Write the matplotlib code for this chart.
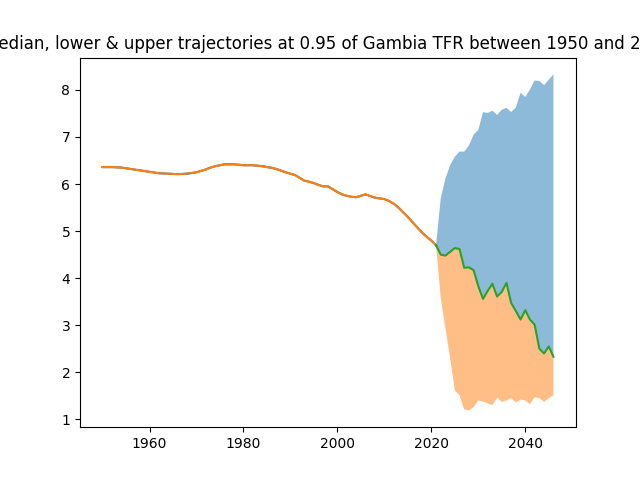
import numpy as np
import matplotlib
matplotlib.use("Agg")
import matplotlib.pyplot as plt

COUNTRY = "Gambia"
LEVEL = 0.95

# Observed TFR, one value per year 1950..2021
past_years = list(range(1950, 2022))
past_tfr = [
    6.36, 6.36, 6.36, 6.355, 6.35, 6.335, 6.32, 6.305, 6.29, 6.275,
    6.26, 6.245, 6.23, 6.225, 6.22, 6.215, 6.21, 6.215, 6.22, 6.235,
    6.25, 6.28, 6.31, 6.35, 6.38, 6.40, 6.42, 6.42, 6.42, 6.41,
    6.40, 6.40, 6.40, 6.39, 6.38, 6.36, 6.345, 6.32, 6.285, 6.25,
    6.22, 6.19, 6.13, 6.07, 6.05, 6.02, 5.98, 5.95, 5.95, 5.89,
    5.83, 5.78, 5.75, 5.73, 5.72, 5.75, 5.78, 5.745, 5.71, 5.695,
    5.68, 5.64, 5.58, 5.50, 5.40, 5.30, 5.19, 5.08, 4.97, 4.88,
    4.80, 4.70,
]

# Projected trajectories 2021..2046
proj_years = list(range(2021, 2047))
median = [
    4.70, 4.50, 4.48, 4.56, 4.64, 4.62, 4.22, 4.23, 4.17, 3.83,
    3.56, 3.73, 3.88, 3.61, 3.71, 3.90, 3.47, 3.30, 3.12, 3.32,
    3.12, 3.01, 2.50, 2.40, 2.55, 2.33,
]
upper = [
    4.70, 5.69, 6.12, 6.40, 6.58, 6.69, 6.69, 6.82, 7.05, 7.15,
    7.53, 7.51, 7.56, 7.47, 7.58, 7.62, 7.53, 7.63, 7.94, 7.85,
    8.01, 8.20, 8.19, 8.10, 8.22, 8.33,
]
lower = [
    4.70, 3.58, 2.94, 2.30, 1.62, 1.51, 1.21, 1.19, 1.26, 1.40,
    1.38, 1.34, 1.30, 1.46, 1.37, 1.40, 1.45, 1.36, 1.42, 1.40,
    1.32, 1.47, 1.45, 1.37, 1.45, 1.51,
]


def plot_trajectories():
    fig, ax = plt.subplots(figsize=(6.4, 4.8), dpi=100)

    # past data is drawn twice (once per bound), the second one hides the first
    ax.plot(past_years, past_tfr)
    ax.plot(past_years, past_tfr)
    ax.plot(proj_years, median)

    ax.fill_between(proj_years, median, upper, alpha=0.5)
    ax.fill_between(proj_years, lower, median, alpha=0.5)

    ax.set_title(
        f"Median, lower & upper trajectories at {LEVEL} of {COUNTRY} TFR "
        f"between 1950 and 2050"
    )
    return fig


if __name__ == "__main__":
    fig = plot_trajectories()
    fig.savefig("out.png", dpi=100)
